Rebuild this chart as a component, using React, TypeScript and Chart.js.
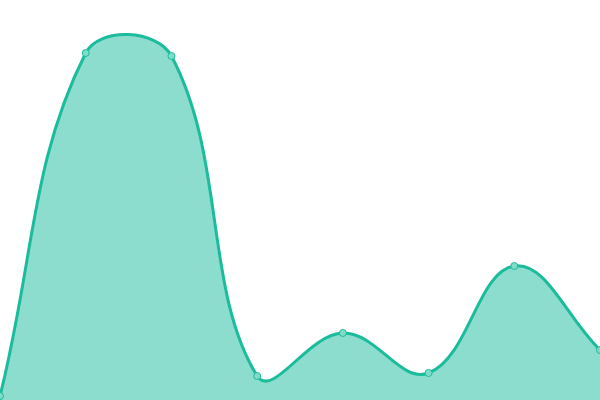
import React, { useEffect, useRef } from "react";
import { Chart, registerables } from "chart.js";

Chart.register(...registerables);

const labels = ["A", "B", "C", "D", "E", "F", "G", "H"];
const values = [1, 86.75, 86, 6, 16.75, 6.75, 33.5, 12.5];

export default function App() {
  const ref = useRef<HTMLCanvasElement>(null);
  useEffect(() => {
    document.body.style.margin = "0";
    const chart = new Chart(ref.current!, {
      type: "line",
      data: {
        labels,
        datasets: [
          {
            data: values,
            borderColor: "#1abc9c",
            backgroundColor: "rgba(26,188,156,0.5)",
            borderWidth: 3,
            fill: true,
            tension: 0.4,
            pointRadius: 3.5,
            pointBorderWidth: 1,
            pointBackgroundColor: "#80dcc9",
            pointBorderColor: "#1abc9c",
            clip: 10,
          },
        ],
      },
      options: {
        animation: false,
        responsive: false,
        maintainAspectRatio: false,
        layout: { padding: 0, autoPadding: false },
        plugins: { legend: { display: false }, tooltip: { enabled: false } },
        scales: {
          x: { display: false },
          y: { display: false, min: 0, max: 100 },
        },
      },
    });
    return () => chart.destroy();
  }, []);
  return (
    <div style={{ position: "fixed", left: 0, top: 0, width: 600, height: 400 }}>
      <canvas ref={ref} width={600} height={400} style={{ width: 600, height: 400 }} />
    </div>
  );
}
